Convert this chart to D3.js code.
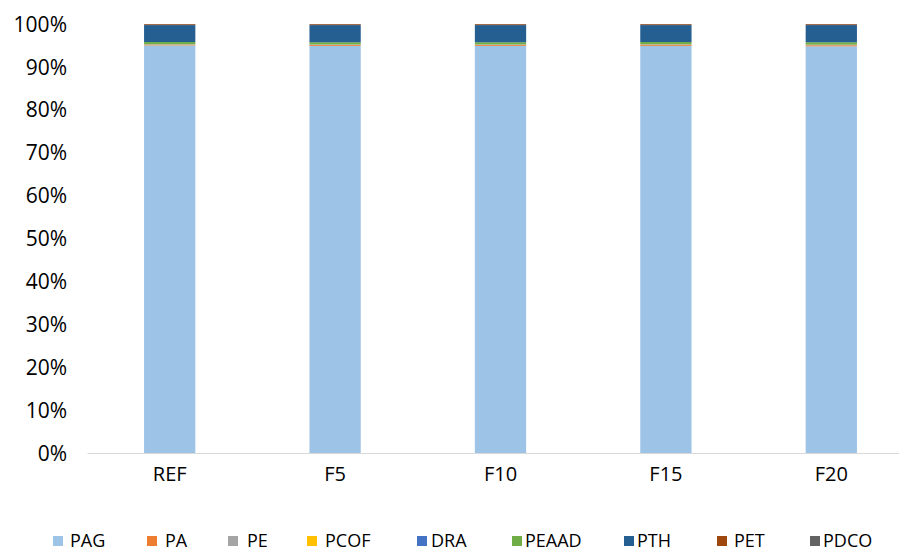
<!DOCTYPE html>
<html>
<head>
<meta charset="utf-8">
<script src="https://cdn.jsdelivr.net/npm/d3@7"></script>
<style>
  body { margin: 0; background: #fff; }
  text { font-family: "Open Sans", "Noto Sans", sans-serif; fill: #000; }
</style>
</head>
<body>
<div id="chart"></div>
<script>
const categories = ["REF", "F5", "F10", "F15", "F20"];
const seriesNames = ["PAG", "PA", "PE", "PCOF", "DRA", "PEAAD", "PTH", "PET", "PDCO"];
const seriesColors = ["#9dc3e6", "#ed7d31", "#a5a5a5", "#ffc000", "#4472c4", "#70ad47", "#255e91", "#9e480e", "#636363"];
// share of each series (%) per category
const PAG   = [95.0, 94.9, 94.9, 94.9, 94.85];
const PA    = [0.15, 0.2, 0.2, 0.25, 0.25];
const PE    = [0.05, 0.05, 0.05, 0.05, 0.05];
const PCOF  = [0.05, 0.05, 0.05, 0.05, 0.05];
const DRA   = [0.05, 0.05, 0.05, 0.05, 0.05];
const PEAAD = [0.5, 0.5, 0.5, 0.5, 0.55];
const PTH   = [3.95, 4.0, 4.0, 3.95, 4.0];
const PET   = [0.2, 0.2, 0.2, 0.2, 0.2];
const PDCO  = [0.05, 0.05, 0.05, 0.05, 0.05];
const yTicks = [0, 10, 20, 30, 40, 50, 60, 70, 80, 90, 100];

const seriesValues = { PAG, PA, PE, PCOF, DRA, PEAAD, PTH, PET, PDCO };

const width = 899, height = 552;
const plot = { left: 87, right: 914, top: 24, bottom: 453 };

const svg = d3.select("#chart").append("svg")
    .attr("width", width)
    .attr("height", height);

const rows = categories.map((c, i) => {
    const r = { cat: c };
    seriesNames.forEach(s => r[s] = seriesValues[s][i]);
    return r;
});
const stacked = d3.stack().keys(seriesNames).offset(d3.stackOffsetExpand)(rows);

const x = d3.scaleBand()
    .domain(categories)
    .range([plot.left, plot.right])
    .paddingInner(0.69)
    .paddingOuter(0.345);

const y = d3.scaleLinear()
    .domain([0, 1])
    .range([plot.bottom, plot.top]);

const color = d3.scaleOrdinal().domain(seriesNames).range(seriesColors);

// bars
svg.append("g")
    .selectAll("g")
    .data(stacked)
    .enter()
    .append("g")
    .attr("fill", d => color(d.key))
    .selectAll("rect")
    .data(d => d)
    .enter()
    .append("rect")
    .attr("x", d => x(d.data.cat))
    .attr("width", x.bandwidth())
    .attr("y", d => y(d[1]))
    .attr("height", d => y(d[0]) - y(d[1]));

// y axis labels
const yAxis = svg.append("g")
    .attr("transform", `translate(${plot.left - 8},0)`)
    .call(d3.axisLeft(y).tickValues(yTicks.map(t => t / 100)).tickFormat(d => Math.round(d * 100) + "%").tickSize(0).tickPadding(12));
yAxis.select(".domain").remove();
yAxis.selectAll("text").style("font-size", "21px").attr("dy", "0.34em");

// x axis
const xAxis = svg.append("g")
    .attr("transform", `translate(0,${plot.bottom})`)
    .call(d3.axisBottom(x).tickSize(0).tickPadding(10));
xAxis.select(".domain").attr("stroke", "#d9d9d9").attr("stroke-width", 1);
xAxis.selectAll("text").style("font-size", "20px").attr("dy", "0.9em");

// legend
const legendX = [53, 147, 228, 307, 417, 512, 624, 717, 810];
const legendTextX = [70, 165, 247, 325, 431, 525, 637, 734, 823];
const legend = svg.append("g");
seriesNames.forEach((s, i) => {
    legend.append("rect")
        .attr("x", legendX[i])
        .attr("y", 536)
        .attr("width", 10)
        .attr("height", 10)
        .attr("fill", color(s));
    legend.append("text")
        .attr("x", legendTextX[i])
        .attr("y", 541)
        .attr("dy", "0.35em")
        .style("font-size", "18px")
        .text(s);
});
</script>
</body>
</html>
